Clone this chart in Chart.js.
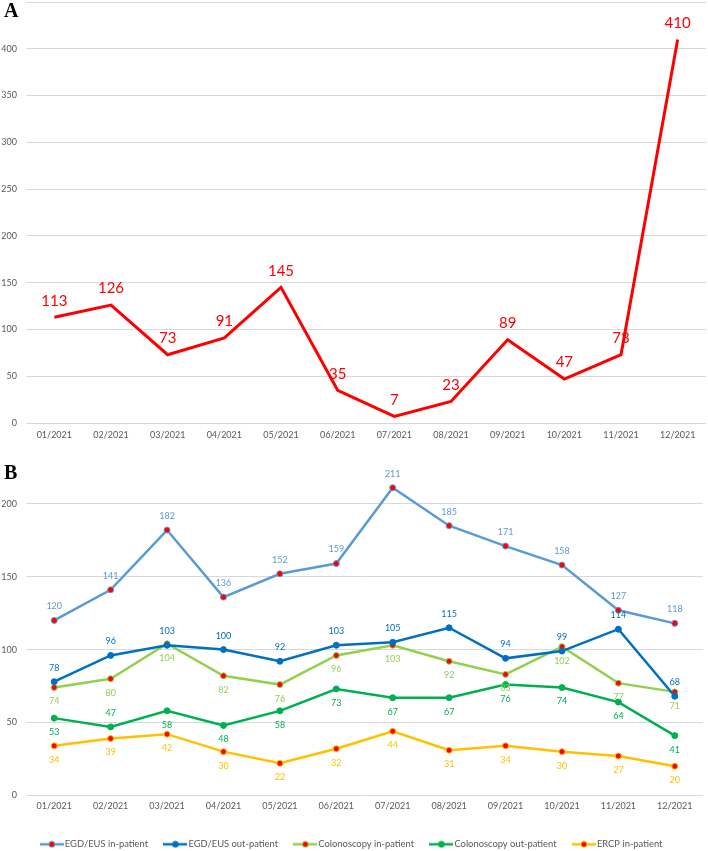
<!DOCTYPE html>
<html>
<head>
<meta charset="utf-8">
<script src="https://cdn.jsdelivr.net/npm/chart.js@4.4.0/dist/chart.umd.min.js"></script>
<style>
  html, body { margin: 0; padding: 0; background: #fff; overflow: hidden; }
  body { width: 708px; height: 851px; position: relative; }
  .panel { position: absolute; left: 4px; font-family: 'Liberation Serif', 'Times New Roman', serif; font-weight: bold; font-size: 20px; line-height: 20px; color: #000; }
  #wrapA { position: absolute; left: 0; top: 0; }
  #wrapB { position: absolute; left: 0; top: 440px; }
</style>
</head>
<body>
<div id="wrapA"><canvas id="chartA" width="708" height="440"></canvas></div>
<div id="wrapB"><canvas id="chartB" width="708" height="419"></canvas></div>
<div class="panel" style="top:0px">A</div>
<div class="panel" style="top:462px">B</div>
<script>
const months = ['01/2021', '02/2021', '03/2021', '04/2021', '05/2021', '06/2021',
                '07/2021', '08/2021', '09/2021', '10/2021', '11/2021', '12/2021'];

// panel A
const totalCases = [113, 126, 73, 91, 145, 35, 7, 23, 89, 47, 73, 410];

// panel B
const seriesNames = ['EGD/EUS in-patient', 'EGD/EUS out-patient', 'Colonoscopy in-patient',
                     'Colonoscopy out-patient', 'ERCP in-patient'];
const egdIn = [120, 141, 182, 136, 152, 159, 211, 185, 171, 158, 127, 118];
const egdOut = [78, 96, 103, 100, 92, 103, 105, 115, 94, 99, 114, 68];
const colonIn = [74, 80, 104, 82, 76, 96, 103, 92, 83, 102, 77, 71];
const colonOut = [53, 47, 58, 48, 58, 73, 67, 67, 76, 74, 64, 41];
const ercpIn = [34, 39, 42, 30, 22, 32, 44, 31, 34, 30, 27, 20];

const tickColor = '#595959';
const gridColor = '#D9D9D9';
const baseFont = 'Lato';

// draws the value above/below each point
const pointLabels = {
    id: 'pointLabels',
    afterDatasetsDraw(chart, args, opts) {
        const ctx = chart.ctx;
        chart.data.datasets.forEach((ds, i) => {
            const meta = chart.getDatasetMeta(i);
            if (meta.hidden) return;
            ctx.save();
            ctx.font = opts.size + 'px ' + baseFont;
            ctx.fillStyle = ds.labelColor || ds.borderColor;
            ctx.textAlign = 'center';
            ctx.textBaseline = 'middle';
            meta.data.forEach((pt, j) => {
                const pos = Array.isArray(ds.labelPos) ? ds.labelPos[j] : ds.labelPos;
                const dy = pos === 'below' ? opts.offset : -opts.offset;
                ctx.fillText(String(ds.data[j]), pt.x, pt.y + dy);
            });
            ctx.restore();
        });
    }
};

function yScale(max, axisWidth, showTop) {
    return {
        min: 0,
        max: max,
        border: { display: false },
        grid: { color: gridColor, lineWidth: 1, drawTicks: false },
        ticks: {
            stepSize: 50,
            includeBounds: false,
            padding: 9,
            color: tickColor,
            font: { family: baseFont, size: 9 },
            callback: (v) => (v === max && !showTop ? '' : v),
        },
        afterFit: (scale) => {
            scale.width = axisWidth;
            scale.paddingTop = 0;
            scale.paddingBottom = 0;
        },
    };
}

function xScale(height, pad) {
    return {
        offset: true,
        border: { display: false },
        grid: { display: false, drawTicks: false },
        ticks: {
            padding: pad,
            color: tickColor,
            autoSkip: false,
            maxRotation: 0,
            font: { family: baseFont, size: 9 },
        },
        afterFit: (scale) => {
            scale.height = height;
            scale.paddingLeft = 0;
            scale.paddingRight = 0;
        },
    };
}

new Chart(document.getElementById('chartA'), {
    type: 'line',
    data: {
        labels: months,
        datasets: [
            {
                data: totalCases,
                borderColor: '#FF0000',
                borderWidth: 3,
                pointRadius: 0,
                tension: 0,
                labelPos: 'above',
            },
        ],
    },
    options: {
        responsive: false,
        animation: false,
        layout: { padding: { top: 2, right: 2, left: 0, bottom: 0 } },
        scales: { x: xScale(17, 7), y: yScale(450, 26, false) },
        plugins: {
            legend: { display: false },
            tooltip: { enabled: false },
            pointLabels: { size: 15, offset: 16.5 },
        },
    },
    plugins: [pointLabels],
});

// legend icon: line segment with a marker in the middle
function legendIcon(lineColor, dotColor) {
    const c = document.createElement('canvas');
    c.width = 24;
    c.height = 8;
    const g = c.getContext('2d');
    g.strokeStyle = lineColor;
    g.lineWidth = 2.5;
    g.beginPath();
    g.moveTo(0, 4);
    g.lineTo(24, 4);
    g.stroke();
    g.beginPath();
    g.arc(12, 4, 3, 0, Math.PI * 2);
    g.fillStyle = dotColor;
    g.fill();
    g.lineWidth = 1;
    g.stroke();
    return c;
}

function series(name, data, color, dotColor, labelPos) {
    return {
        label: name,
        data: data,
        borderColor: color,
        backgroundColor: dotColor,
        borderWidth: 2.5,
        tension: 0,
        pointRadius: 3,
        pointBorderWidth: 1,
        pointBorderColor: color,
        pointBackgroundColor: dotColor,
        labelPos: labelPos,
        icon: legendIcon(color, dotColor),
    };
}

const datasetsB = [
    series(seriesNames[0], egdIn, '#5B9BD5', '#FF0000', 'above'),
    series(seriesNames[1], egdOut, '#0070C0', '#0070C0', 'above'),
    series(seriesNames[2], colonIn, '#92D050', '#FF0000', 'below'),
    series(seriesNames[3], colonOut, '#00B050', '#00B050',
        ['below', 'above', 'below', 'below', 'below', 'below', 'below', 'below', 'below', 'below', 'below', 'below']),
    series(seriesNames[4], ercpIn, '#FFC000', '#FF0000', 'below'),
];

new Chart(document.getElementById('chartB'), {
    type: 'line',
    data: { labels: months, datasets: datasetsB },
    options: {
        responsive: false,
        animation: false,
        layout: { padding: { top: 5.5, right: 2, left: 0, bottom: 0 } },
        scales: { x: xScale(25.2, 5), y: yScale(240, 26, true) },
        plugins: {
            tooltip: { enabled: false },
            pointLabels: { size: 9, offset: 14 },
            legend: {
                position: 'bottom',
                labels: {
                    usePointStyle: true,
                    pointStyleWidth: 16.6,
                    padding: 19,
                    color: tickColor,
                    font: { family: baseFont, size: 9.4 },
                    generateLabels(chart) {
                        const items = Chart.defaults.plugins.legend.labels.generateLabels(chart);
                        items.forEach((it) => {
                            it.pointStyle = chart.data.datasets[it.datasetIndex].icon;
                        });
                        return items;
                    },
                },
            },
        },
    },
    plugins: [pointLabels],
});
</script>
</body>
</html>
